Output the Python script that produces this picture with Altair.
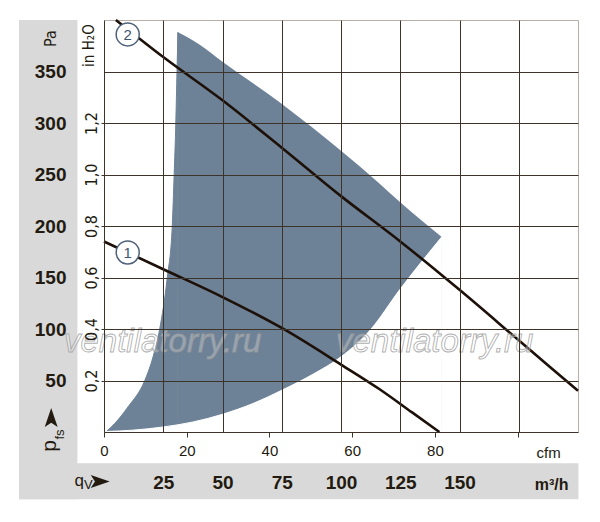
import altair as alt
import pandas as pd

# ---- data (x in m³/h, y in Pa) ----
c1_q = [0, 25, 50, 75, 100, 116.3, 130, 141.5]
c1_p = [185, 158, 131, 101, 65.5, 41.5, 19, 0]

c2_q = [5, 25, 50, 75, 100, 125, 150, 175, 200]
c2_p = [400, 364, 322, 276, 229, 185, 138, 89, 40]

# operating zone: left edge, upper edge, lower edge
zl_q = [1, 4.5, 10.1, 17.2, 20.7, 23.5, 26.7, 28.8, 29.6, 30.3, 30.8, 31.2]
zl_p = [0.5, 8.2, 24.3, 50, 73, 100, 150, 200, 250, 300, 350, 388]
zt_q = [31.2, 40.4, 50, 74.8, 100, 116.2, 125, 142.5]
zt_p = [388, 376, 359.5, 319, 273, 241.3, 223, 189.4]
zb_q = [1, 12.2, 25, 37.5, 50, 62.8, 75, 88.1, 100, 112.7, 124.6, 142.5]
zb_p = [0.5, 1.8, 4.9, 9.7, 17.2, 27.6, 40.5, 56, 73, 100, 137.6, 189.4]

curve_names = ["1", "2"]
curve_lab_q = [10, 10]
curve_lab_p = [174.3, 386]

m3h_ticks = [0, 25, 50, 75, 100, 125, 150, 175]
pa_ticks = [0, 50, 100, 150, 200, 250, 300, 350]
cfm_ticks = [0, 20, 40, 60, 80, 100]
inh2o_ticks = [0.2, 0.4, 0.6, 0.8, 1.0, 1.2]

# ---- styles ----
NARROW = "Liberation Sans Narrow, DejaVu Sans Condensed, Liberation Sans, sans-serif"
SANS = "Liberation Sans, Arial, sans-serif"
TXT = "#231a10"
GRID = "#3d3328"
ZONE = "#6e8297"
LINE = "#1c1008"
BAND = "#d9d9d9"

xs = alt.Scale(domain=[0, 200], nice=False, zero=False)
ys = alt.Scale(domain=[0, 400], nice=False, zero=False)

c1 = pd.DataFrame({"q": c1_q, "p": c1_p})
c2 = pd.DataFrame({"q": c2_q, "p": c2_p})
zl = pd.DataFrame({"q": zl_q, "p": zl_p})
zt = pd.DataFrame({"q": zt_q, "p": zt_p})
zb = pd.DataFrame({"q": zb_q, "p": zb_p})
labs = pd.DataFrame({"q": curve_lab_q, "p": curve_lab_p, "t": curve_names})
one = pd.DataFrame({"a": [0]})

x_axis = alt.Axis(values=m3h_ticks, grid=True, gridColor=GRID, gridWidth=1, ticks=False,
                  domain=False, labelFont=SANS, labelFontSize=19, labelFontWeight="bold",
                  labelColor=TXT, labelPadding=41, labelFlush=False, zindex=1, title=None,
                  labelExpr="(datum.value == 0 || datum.value == 175) ? '' : datum.label")
y_axis = alt.Axis(values=pa_ticks, grid=True, gridColor=GRID, gridWidth=1, ticks=False,
                  domain=False, labelFont=SANS, labelFontSize=19, labelFontWeight="bold",
                  labelColor=TXT, labelPadding=38, zindex=1, title=None,
                  labelExpr="datum.value == 0 ? '' : datum.label")


def txt(t, x, y, size=16, font=NARROW, weight="normal", angle=0, align="center",
        baseline="middle", **kw):
    return alt.Chart(one).mark_text(text=t, fontSize=size, font=font, fontWeight=weight,
                                    angle=angle, align=align, baseline=baseline,
                                    color=TXT, **kw).encode(x=alt.value(x), y=alt.value(y))


band_left = alt.Chart(one).mark_rect(color=BAND).encode(
    x=alt.value(-85), x2=alt.value(-26.6), y=alt.value(0), y2=alt.value(479.3))
band_bottom = alt.Chart(one).mark_rect(color=BAND).encode(
    x=alt.value(-85), x2=alt.value(474.4), y=alt.value(443.3), y2=alt.value(479.3))

zone_top = alt.Chart(zt).mark_area(color=ZONE, interpolate="monotone", opacity=1).encode(
    x=alt.X("q:Q", scale=xs, axis=x_axis),
    y=alt.Y("p:Q", scale=ys, axis=y_axis),
    y2=alt.datum(0))
zone_left = alt.Chart(zl).mark_area(color=ZONE, interpolate="monotone", opacity=1,
                                    stroke=ZONE, strokeWidth=1).encode(
    x=alt.X("q:Q", scale=xs, axis=None),
    y=alt.Y("p:Q", scale=ys, axis=None),
    y2=alt.datum(0))
zone_cut = alt.Chart(zb).mark_area(color="white", interpolate="monotone", opacity=1,
                                   stroke="white", strokeWidth=1).encode(
    x=alt.X("q:Q", scale=xs, axis=None),
    y=alt.Y("p:Q", scale=ys, axis=None),
    y2=alt.datum(0))

line1 = alt.Chart(c1).mark_line(color=LINE, strokeWidth=2.6, interpolate="monotone").encode(
    x=alt.X("q:Q", scale=xs, axis=None), y=alt.Y("p:Q", scale=ys, axis=None))
line2 = alt.Chart(c2).mark_line(color=LINE, strokeWidth=2.6, interpolate="monotone").encode(
    x=alt.X("q:Q", scale=xs, axis=None), y=alt.Y("p:Q", scale=ys, axis=None))

circ = alt.Chart(labs).mark_point(shape="circle", size=530, filled=True, fill="white",
                                  stroke="#4e627a", strokeWidth=1.5, opacity=1).encode(
    x=alt.X("q:Q", scale=xs, axis=None), y=alt.Y("p:Q", scale=ys, axis=None))
circ_t = alt.Chart(labs).mark_text(font=SANS, fontSize=15, color="#3f5672", baseline="middle",
                                   dy=1).encode(
    x=alt.X("q:Q", scale=xs, axis=None), y=alt.Y("p:Q", scale=ys, axis=None), text="t:N")

wm_style = dict(text="ventilatorry.ru", font=SANS, fontSize=33, fontStyle="italic",
                fill="white", fillOpacity=0.3, stroke="#9a9a9a", strokeWidth=0.9,
                strokeOpacity=0.8, align="center", baseline="alphabetic")
wm1 = alt.Chart(one).mark_text(**wm_style).encode(x=alt.value(58.7), y=alt.value(331.7))
wm2 = alt.Chart(one).mark_text(**wm_style).encode(x=alt.value(330.7), y=alt.value(331.7))

up_arrow = "M0,-1 L0.68,1 L0,0.55 L-0.68,1 Z"
right_arrow = "M1,0 L-1,0.68 L-0.55,0 L-1,-0.68 Z"
arr_p = alt.Chart(one).mark_point(shape=up_arrow, size=361, filled=True, color=TXT,
                                  opacity=1).encode(x=alt.value(-52.8), y=alt.value(397.5))
arr_q = alt.Chart(one).mark_point(shape=right_arrow, size=361, filled=True, color=TXT,
                                  opacity=1).encode(x=alt.value(-3.8), y=alt.value(461.5))

texts = [
    txt("Pa", -53.3, 18.5, size=16, angle=270),
    txt("in H₂O", -14.8, 25.5, size=15, angle=270),
    txt("p", -47.6, 426, size=21, font=SANS, angle=270, baseline="alphabetic"),
    txt("fs", -40.5, 414.5, size=13, font=SANS, angle=270, baseline="alphabetic"),
    txt("q", -24.8, 466, size=17, font=SANS, baseline="alphabetic"),
    txt("V", -15.6, 468.5, size=13, font=SANS, baseline="alphabetic"),
    txt("m³/h", 447.7, 470, size=16, font=SANS, weight="bold", baseline="alphabetic"),
    txt("cfm", 444.7, 438, size=15, font=SANS, baseline="alphabetic"),
]

cfm_layer = alt.Chart(pd.DataFrame({"cfm": cfm_ticks})).mark_point(opacity=0).encode(
    x=alt.X("cfm:Q", scale=alt.Scale(domain=[0, 114.6], nice=False, zero=False),
            axis=alt.Axis(orient="bottom", values=cfm_ticks, grid=False, domain=False,
                          ticks=True, tickSize=5, tickColor=GRID, tickWidth=1,
                          labelFont=SANS, labelFontSize=15, labelColor=TXT, labelPadding=6,
                          labelFlush=False, zindex=1, title=None,
                          labelExpr="datum.value == 100 ? '' : datum.label")))

inh_layer = alt.Chart(pd.DataFrame({"inh": inh2o_ticks})).mark_point(opacity=0).encode(
    y=alt.Y("inh:Q", scale=alt.Scale(domain=[0, 1.6], nice=False, zero=False),
            axis=alt.Axis(orient="left", values=inh2o_ticks, grid=False, domain=False,
                          ticks=True, tickSize=3, tickColor=GRID, tickWidth=1,
                          labelFont=NARROW, labelFontSize=16, labelColor=TXT, labelPadding=5,
                          labelAngle=270, labelAlign="center", labelBaseline="alphabetic",
                          zindex=1, title=None,
                          labelExpr="replace(format(datum.value, '.1f'), '.', ',')")))

chart = alt.layer(
    band_left, band_bottom, zone_top, zone_left, zone_cut, line1, line2, circ, circ_t,
    wm1, wm2, arr_p, arr_q, *texts, cfm_layer, inh_layer
).resolve_scale(x="independent", y="independent").properties(
    width=474, height=412,
    padding={"left": 96, "top": 12, "right": 14, "bottom": 80},
    autosize="none",
).configure_view(stroke="#b8b0a8", strokeWidth=1)

chart.save("out.html", embed_options={"renderer": "svg", "actions": False})
